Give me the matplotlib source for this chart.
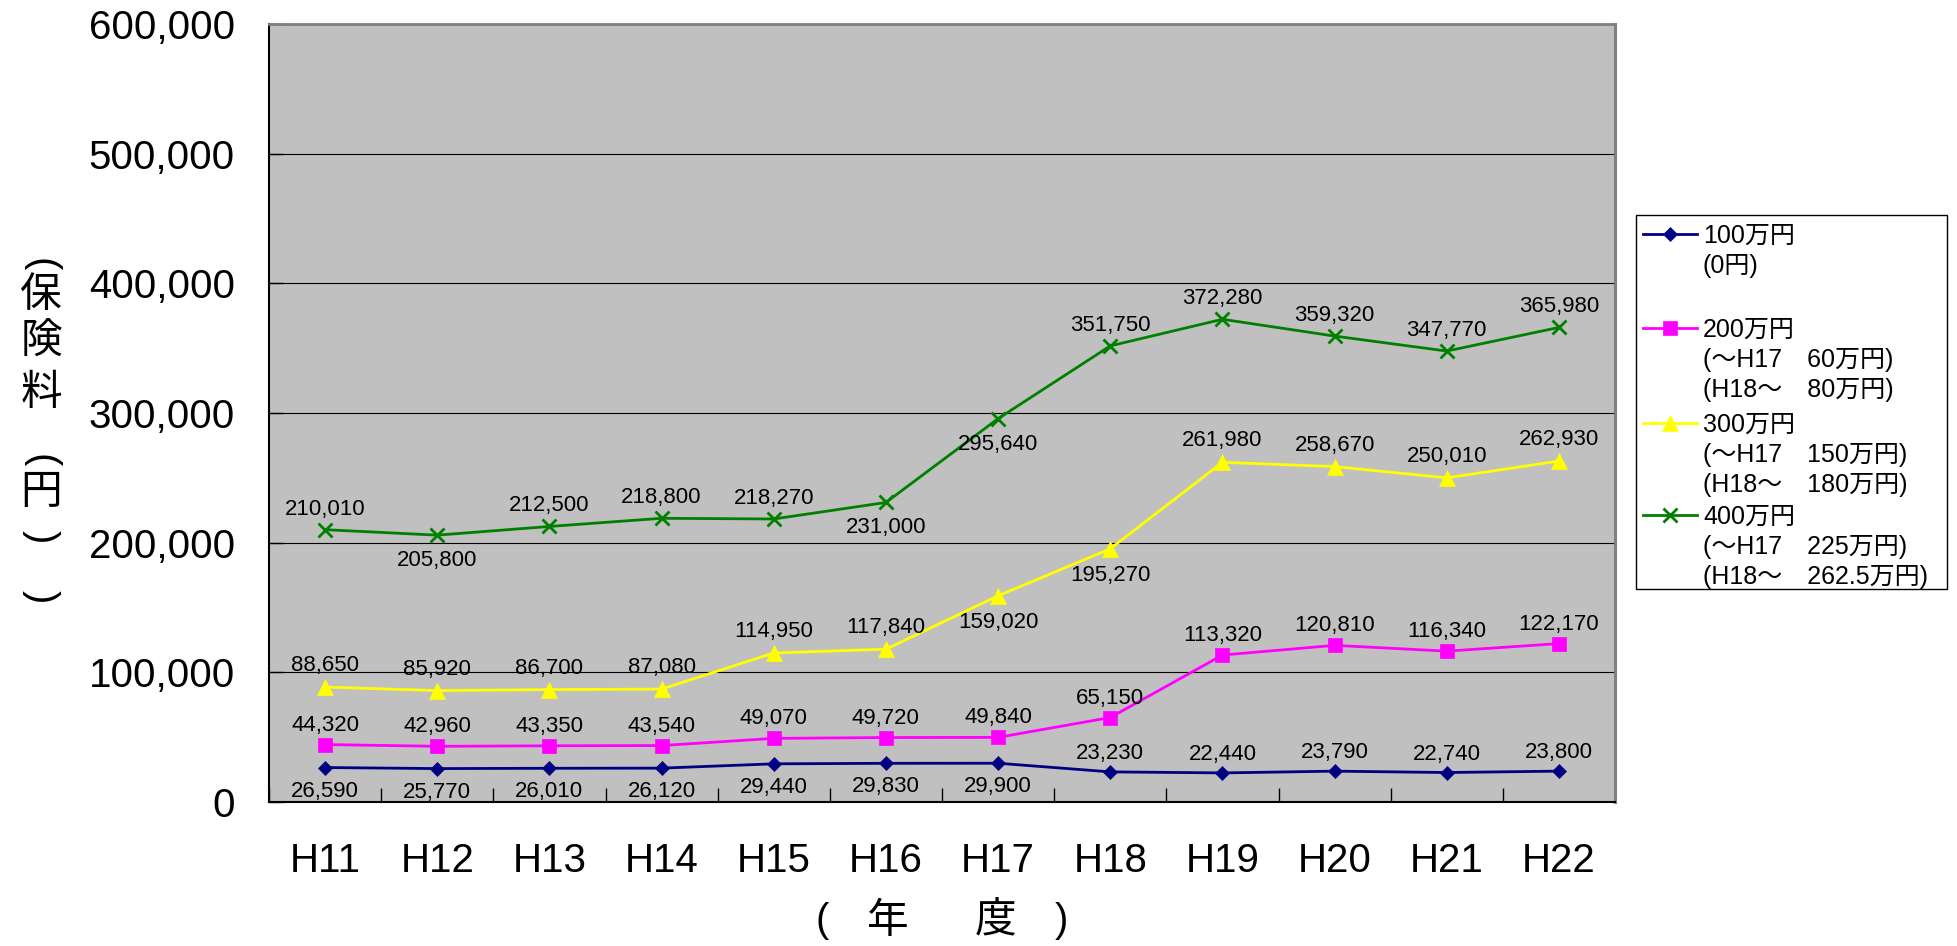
import numpy as np
import matplotlib
matplotlib.use("Agg")
import matplotlib.pyplot as plt
from matplotlib.lines import Line2D
from matplotlib.patches import Rectangle
from matplotlib.ticker import MultipleLocator, FuncFormatter

# ---- data -------------------------------------------------------------
years = ["H11", "H12", "H13", "H14", "H15", "H16",
         "H17", "H18", "H19", "H20", "H21", "H22"]

income_100 = [26590, 25770, 26010, 26120, 29440, 29830,
              29900, 23230, 22440, 23790, 22740, 23800]
income_200 = [44320, 42960, 43350, 43540, 49070, 49720,
              49840, 65150, 113320, 120810, 116340, 122170]
income_300 = [88650, 85920, 86700, 87080, 114950, 117840,
              159020, 195270, 261980, 258670, 250010, 262930]
income_400 = [210010, 205800, 212500, 218800, 218270, 231000,
              295640, 351750, 372280, 359320, 347770, 365980]

series_titles = ["100万円", "200万円", "300万円", "400万円"]
series_notes = [
    ["(0円)"],
    ["(～H17　60万円)", "(H18～　80万円)"],
    ["(～H17　150万円)", "(H18～　180万円)"],
    ["(～H17　225万円)", "(H18～　262.5万円)"],
]

# label side for each value: "a" above the point, "b" below it
label_side_100 = ["b"] * 7 + ["a"] * 5
label_side_200 = ["a"] * 12
label_side_300 = ["a"] * 6 + ["b", "b"] + ["a"] * 4
label_side_400 = ["a", "b", "a", "a", "a", "b", "b", "a", "a", "a", "a", "a"]

# ---- styling ----------------------------------------------------------
W, H, DPI = 1957, 946, 100
LATIN = "Liberation Sans"
CJK = "Noto Sans CJK JP"
plt.rcParams["font.family"] = [LATIN, CJK]

styles = [
    dict(color="#000080", marker="D", ms=7.0, mew=0.5),
    dict(color="#FF00FF", marker="s", ms=10.5, mew=0.5),
    dict(color="#FFFF00", marker="^", ms=11.0, mew=0.5),
    dict(color="#008000", marker="x", ms=10.0, mew=2.0),
]
label_gap = [21, 22, 24, 23]  # pixels between point and label centre


def fx(px):
    return px / W


def fy(py):
    return 1 - py / H


fig = plt.figure(figsize=(W / DPI, H / DPI), dpi=DPI)
fig.patch.set_facecolor("white")

L, T, R, B = 269, 24, 1615, 802
ax = fig.add_axes([fx(L), fy(B), fx(R - L), (B - T) / H])
ax.set_facecolor("#C0C0C0")

x = np.arange(len(years))
all_series = [income_100, income_200, income_300, income_400]
all_sides = [label_side_100, label_side_200, label_side_300, label_side_400]

for vals, st, sides, gap in zip(all_series, styles, all_sides, label_gap):
    ax.plot(x, vals, color=st["color"], lw=2.0, marker=st["marker"],
            ms=st["ms"], mfc=st["color"], mec=st["color"], mew=st["mew"],
            zorder=3, clip_on=False)
    for xi, v, s in zip(x, vals, sides):
        off = gap if s == "a" else -gap
        ax.annotate(f"{v:,}", (xi, v), xytext=(0, off),
                    textcoords="offset pixels", ha="center",
                    va="center_baseline", fontsize=16, color="black",
                    family=LATIN, zorder=4)

ax.set_xlim(-0.5, len(years) - 0.5)
ax.set_ylim(0, 600000)
ax.yaxis.set_major_locator(MultipleLocator(100000))
ax.yaxis.set_major_formatter(FuncFormatter(lambda v, p: f"{int(v):,}"))
ax.grid(axis="y", color="black", lw=0.8)
ax.set_axisbelow(True)

ax.set_xticks(x)
ax.set_xticklabels(years)
ax.set_xticks(np.arange(-0.5, len(years), 1.0), minor=True)
ax.tick_params(axis="x", which="major", length=0, labelsize=29, pad=29)
ax.tick_params(axis="x", which="minor", direction="in", length=10, width=1,
               color="black")
ax.tick_params(axis="y", which="major", direction="in", length=10, width=1,
               labelsize=29, pad=24.5, color="black")
for lab in ax.get_xticklabels() + ax.get_yticklabels():
    lab.set_family(LATIN)

ax.spines["left"].set_color("black")
ax.spines["left"].set_linewidth(1.5)
ax.spines["bottom"].set_color("black")
ax.spines["bottom"].set_linewidth(1.5)
ax.spines["top"].set_color("#808080")
ax.spines["top"].set_linewidth(2)
ax.spines["right"].set_color("#808080")
ax.spines["right"].set_linewidth(2.2)

# ---- vertical y-axis title --------------------------------------------
ycol = 41
fig.text(fx(ycol), fy(265), "(", rotation=-90, ha="center", va="center",
         fontsize=29, family=LATIN)
for ch, yy in [("保", 295), ("険", 342), ("料", 393)]:
    fig.text(fx(ycol), fy(yy), ch, ha="center", va="center", fontsize=30,
             family=CJK)
fig.text(fx(ycol), fy(461), "(", rotation=-90, ha="center", va="center",
         fontsize=29, family=LATIN)
fig.text(fx(ycol), fy(492), "円", ha="center", va="center", fontsize=30,
         family=CJK)
fig.text(fx(ycol), fy(537), ")", rotation=-90, ha="center", va="center",
         fontsize=29, family=LATIN)
fig.text(fx(ycol), fy(597), ")", rotation=-90, ha="center", va="center",
         fontsize=29, family=LATIN)

# ---- x-axis title ------------------------------------------------------
fig.text(fx(822), fy(921), "(", ha="center", va="center", fontsize=29,
         family=LATIN)
fig.text(fx(888), fy(921), "年", ha="center", va="center", fontsize=30,
         family=CJK)
fig.text(fx(996), fy(921), "度", ha="center", va="center", fontsize=30,
         family=CJK)
fig.text(fx(1061), fy(921), ")", ha="center", va="center", fontsize=29,
         family=LATIN)

# ---- legend -------------------------------------------------------------
fig.add_artist(Rectangle((fx(1636), fy(589)), fx(1947 - 1636), (589 - 215) / H,
                         transform=fig.transFigure, facecolor="white",
                         edgecolor="black", lw=1.0))
entry_top = [234, 328, 423, 515]
line_pitch = 30
for title, notes, st, yc in zip(series_titles, series_notes, styles, entry_top):
    fig.add_artist(Line2D([fx(1643), fx(1697)], [fy(yc), fy(yc)],
                          transform=fig.transFigure, color=st["color"], lw=2.0))
    fig.add_artist(Line2D([fx(1670)], [fy(yc)], transform=fig.transFigure,
                          ls="none", marker=st["marker"], ms=st["ms"],
                          mfc=st["color"], mec=st["color"], mew=st["mew"]))
    for k, line in enumerate([title] + notes):
        fig.text(fx(1703), fy(yc + k * line_pitch + 9), line, ha="left",
                 va="baseline", fontsize=18, family=[LATIN, CJK])

fig.savefig("out.png", dpi=DPI, facecolor="white")
